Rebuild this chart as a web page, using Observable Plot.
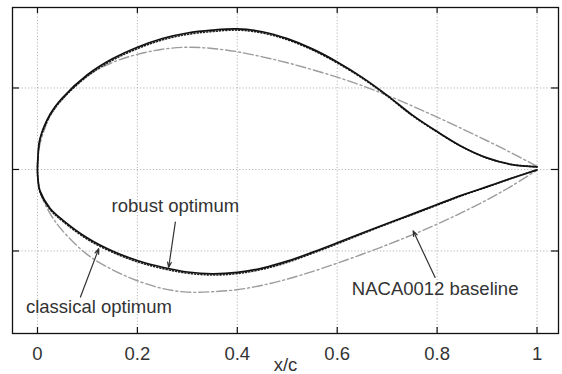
<!DOCTYPE html>
<html>
<head>
<meta charset="utf-8">
<script src="https://cdn.jsdelivr.net/npm/d3@7"></script>
<script src="https://cdn.jsdelivr.net/npm/@observablehq/plot@0.6"></script>
<style>
  html, body { margin: 0; padding: 0; background: #fff; }
  #chart svg { display: block; }
</style>
</head>
<body>
<div id="chart"></div>
<script>
// chordwise stations x/c
const xc = [0, 0.001, 0.005, 0.025, 0.05, 0.1, 0.15, 0.2, 0.25, 0.3, 0.35, 0.4, 0.45, 0.5, 0.55, 0.6, 0.65, 0.7, 0.75, 0.8, 0.85, 0.9, 0.95, 1];

// classical optimum (solid)
const classicalUpper = [0, 0.0062, 0.0150, 0.0270, 0.0352, 0.0465, 0.0543, 0.0600, 0.0643, 0.0670, 0.0684, 0.0690, 0.0676, 0.0642, 0.0592, 0.0528, 0.0452, 0.0364, 0.0268, 0.0186, 0.0112, 0.0057, 0.0024, 0.0013];
const classicalLower = [0, -0.0047, -0.0105, -0.0190, -0.0247, -0.0336, -0.0400, -0.0447, -0.0480, -0.0503, -0.0512, -0.0505, -0.0484, -0.0450, -0.0407, -0.0360, -0.0312, -0.0265, -0.0219, -0.0172, -0.0126, -0.0084, -0.0042, -0.0002];

// robust optimum (dotted)
const robustUpper = [0, 0.0058, 0.0146, 0.0264, 0.0346, 0.0458, 0.0536, 0.0593, 0.0636, 0.0663, 0.0677, 0.0684, 0.0670, 0.0637, 0.0587, 0.0523, 0.0448, 0.0361, 0.0265, 0.0184, 0.0111, 0.0056, 0.0024, 0.0013];
const robustLower = [0, -0.0051, -0.0110, -0.0196, -0.0253, -0.0343, -0.0406, -0.0453, -0.0486, -0.0509, -0.0518, -0.0511, -0.0490, -0.0456, -0.0412, -0.0365, -0.0316, -0.0268, -0.0222, -0.0175, -0.0128, -0.0086, -0.0043, -0.0002];

// NACA0012 baseline (dash-dot)
const nacaUpper = [0, 0.0050, 0.0125, 0.0260, 0.0345, 0.0460, 0.0525, 0.0565, 0.0590, 0.0600, 0.0594, 0.0578, 0.0553, 0.0524, 0.0490, 0.0453, 0.0411, 0.0364, 0.0312, 0.0257, 0.0200, 0.0141, 0.0080, 0.0015];
const nacaLower = [0, -0.0050, -0.0110, -0.0215, -0.0300, -0.0418, -0.0492, -0.0546, -0.0584, -0.0602, -0.0600, -0.0590, -0.0568, -0.0538, -0.0501, -0.0460, -0.0416, -0.0370, -0.0321, -0.0268, -0.0211, -0.0149, -0.0080, -0.0003];

// axes
const xTicks = [0, 0.2, 0.4, 0.6, 0.8, 1];
const xTickLabels = ["0", "0.2", "0.4", "0.6", "0.8", "1"];
const yTicks = [-0.04, 0, 0.04];
const xLabel = "x/c";

// annotations
const annoText = ["robust optimum", "classical optimum", "NACA0012 baseline"];
const annoX = [0.276, 0.123, 0.796];
const annoY = [-0.0182, -0.0677, -0.0589];
const arrowX1 = [0.276, 0.086, 0.796];
const arrowY1 = [-0.0258, -0.0626, -0.0530];
const arrowX2 = [0.2626, 0.1226, 0.752];
const arrowY2 = [-0.0481, -0.0389, -0.0301];

function loop(upper, lower) {
  const pts = [];
  for (let i = xc.length - 1; i >= 0; i--) pts.push({x: xc[i], y: upper[i]});
  for (let i = 1; i < xc.length; i++) pts.push({x: xc[i], y: lower[i]});
  return pts;
}
const classical = loop(classicalUpper, classicalLower);
const robust = loop(robustUpper, robustLower);
const naca = loop(nacaUpper, nacaLower);
const annos = annoText.map((t, i) => ({t, x: annoX[i], y: annoY[i], x1: arrowX1[i], y1: arrowY1[i], x2: arrowX2[i], y2: arrowY2[i]}));

const W = 562, H = 374, mL = 12, mR = 4, mT = 7, mB = 41;
const font = "'Liberation Sans', Arial, sans-serif";

const chart = Plot.plot({
  width: W,
  height: H,
  marginLeft: mL,
  marginRight: mR,
  marginTop: mT,
  marginBottom: mB,
  style: {background: "#fff", fontFamily: font, color: "#222"},
  x: {domain: [-0.05, 1.043]},
  y: {domain: [-0.0805, 0.0795], axis: null},
  marks: [
    Plot.ruleX(xTicks, {x: d => d, stroke: "#b5b5b5", strokeDasharray: "1.2,2", strokeWidth: 1}),
    Plot.ruleY(yTicks, {y: d => d, stroke: "#b5b5b5", strokeDasharray: "1.2,2", strokeWidth: 1}),
    Plot.line(naca, {x: "x", y: "y", stroke: "#9c9c9c", strokeWidth: 1.4, strokeDasharray: "10,3,2,3", curve: "catmull-rom"}),
    Plot.line(robust, {x: "x", y: "y", stroke: "#222", strokeWidth: 1.6, strokeDasharray: "1,2.2", curve: "catmull-rom"}),
    Plot.line(classical, {x: "x", y: "y", stroke: "#111", strokeWidth: 1.7, curve: "catmull-rom"}),
    Plot.arrow(annos, {x1: "x1", y1: "y1", x2: "x2", y2: "y2", stroke: "#333", strokeWidth: 1.2, headLength: 7, headAngle: 40}),
    Plot.text(annos, {x: "x", y: "y", text: "t", fontSize: 18.5, fill: "#333", fontFamily: font}),
    Plot.tickX(xTicks, {x: d => d, insetTop: 320, stroke: "#111", strokeWidth: 1.2}),
    Plot.tickX(xTicks, {x: d => d, insetBottom: 320, stroke: "#111", strokeWidth: 1.2}),
    Plot.tickY(yTicks, {y: d => d, insetRight: 539, stroke: "#111", strokeWidth: 1.2}),
    Plot.tickY(yTicks, {y: d => d, insetLeft: 539, stroke: "#111", strokeWidth: 1.2}),
    Plot.axisX(xTicks, {
      anchor: "bottom",
      tickSize: 0,
      tickPadding: 13,
      fontSize: 18.5,
      fill: "#333",
      tickFormat: (d) => xTickLabels[xTicks.indexOf(d)],
      label: xLabel,
      labelAnchor: "center",
      labelOffset: 37,
      labelArrow: "none"
    }),
    Plot.frame({stroke: "#111", strokeWidth: 1.3})
  ]
});
document.getElementById("chart").appendChild(chart);
</script>
</body>
</html>
